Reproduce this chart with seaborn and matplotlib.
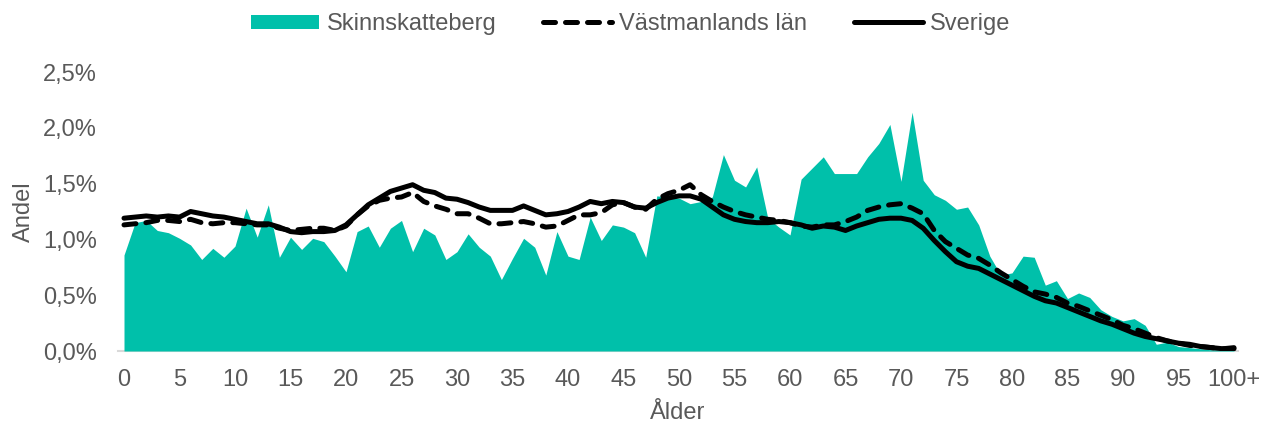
import matplotlib
matplotlib.use("Agg")
import matplotlib.pyplot as plt
import seaborn as sns
import pandas as pd
from matplotlib.patches import Patch
from matplotlib.lines import Line2D
from matplotlib.ticker import FuncFormatter

ages = list(range(101))

skinnskatteberg = [
    0.86, 1.15, 1.17, 1.08, 1.06, 1.01, 0.95, 0.82, 0.92, 0.84,
    0.94, 1.28, 1.02, 1.31, 0.84, 1.02, 0.91, 1.01, 0.98, 0.85,
    0.71, 1.07, 1.12, 0.93, 1.10, 1.17, 0.89, 1.10, 1.04, 0.82,
    0.89, 1.05, 0.93, 0.85, 0.64, 0.83, 1.01, 0.93, 0.68, 1.07,
    0.85, 0.82, 1.20, 0.99, 1.13, 1.11, 1.06, 0.84, 1.39, 1.38,
    1.37, 1.32, 1.34, 1.38, 1.76, 1.53, 1.47, 1.65, 1.19, 1.11,
    1.04, 1.54, 1.64, 1.74, 1.59, 1.59, 1.59, 1.74, 1.86, 2.03,
    1.52, 2.14, 1.53, 1.40, 1.35, 1.27, 1.29, 1.13, 0.85, 0.68,
    0.70, 0.85, 0.84, 0.59, 0.63, 0.47, 0.52, 0.48, 0.37, 0.31,
    0.27, 0.29, 0.23, 0.06, 0.08, 0.04, 0.03, 0.02, 0.01, 0.01, 0.01,
]

vastmanland = [
    1.13, 1.14, 1.15, 1.17, 1.17, 1.16, 1.18, 1.15, 1.14, 1.15,
    1.15, 1.14, 1.13, 1.13, 1.10, 1.08, 1.09, 1.10, 1.10, 1.08,
    1.12, 1.22, 1.30, 1.35, 1.37, 1.38, 1.42, 1.34, 1.30, 1.27,
    1.23, 1.23, 1.19, 1.14, 1.14, 1.15, 1.16, 1.14, 1.11, 1.12,
    1.17, 1.22, 1.22, 1.24, 1.31, 1.33, 1.29, 1.27, 1.36, 1.41,
    1.44, 1.49, 1.40, 1.34, 1.29, 1.25, 1.22, 1.20, 1.18, 1.17,
    1.15, 1.12, 1.11, 1.13, 1.13, 1.16, 1.20, 1.26, 1.29, 1.31,
    1.32, 1.28, 1.23, 1.08, 0.98, 0.92, 0.86, 0.83, 0.77, 0.70,
    0.64, 0.58, 0.53, 0.51, 0.48, 0.43, 0.40, 0.36, 0.32, 0.28,
    0.23, 0.20, 0.16, 0.12, 0.09, 0.07, 0.05, 0.04, 0.03, 0.02, 0.02,
]

sverige = [
    1.19, 1.20, 1.21, 1.20, 1.21, 1.20, 1.25, 1.23, 1.21, 1.20,
    1.18, 1.16, 1.14, 1.14, 1.11, 1.07, 1.06, 1.07, 1.07, 1.08,
    1.13, 1.22, 1.31, 1.37, 1.43, 1.46, 1.49, 1.44, 1.42, 1.37,
    1.36, 1.33, 1.29, 1.26, 1.26, 1.26, 1.30, 1.26, 1.22, 1.23,
    1.25, 1.29, 1.34, 1.32, 1.34, 1.33, 1.29, 1.28, 1.33, 1.37,
    1.39, 1.39, 1.36, 1.29, 1.22, 1.18, 1.16, 1.15, 1.15, 1.16,
    1.15, 1.13, 1.10, 1.12, 1.11, 1.08, 1.12, 1.15, 1.18, 1.19,
    1.19, 1.17, 1.10, 0.99, 0.89, 0.80, 0.76, 0.74, 0.69, 0.64,
    0.59, 0.54, 0.49, 0.45, 0.43, 0.39, 0.35, 0.31, 0.27, 0.24,
    0.20, 0.16, 0.13, 0.11, 0.09, 0.07, 0.06, 0.04, 0.03, 0.02, 0.03,
]

tick_ages = list(range(0, 101, 5))
tick_labels = [str(a) for a in range(0, 100, 5)] + ["100+"]
y_ticks = [0.0, 0.5, 1.0, 1.5, 2.0, 2.5]

series_names = ["Skinnskatteberg", "Västmanlands län", "Sverige"]

TEAL = "#00C0AA"
TEXT = "#595959"

sns.set_theme(style="white")
plt.rcParams["font.family"] = ["Liberation Sans", "DejaVu Sans"]
FS = 17
LW = 3.6

df = pd.DataFrame({"age": ages, "skinn": skinnskatteberg,
                   "vast": vastmanland, "sve": sverige})

fig = plt.figure(figsize=(12.61, 4.23), dpi=100)
x0, x1 = -0.55, 100.35
left_px = 124 + 11.1 * x0
right_px = 124 + 11.1 * x1
ax = fig.add_axes([left_px / 1261, 1 - 351 / 423,
                   (right_px - left_px) / 1261, (351 - 72) / 423])

ax.fill_between(df["age"], 0, df["skinn"], color=TEAL, linewidth=0, zorder=1)
sns.lineplot(data=df, x="age", y="vast", ax=ax, color="black", linewidth=LW,
             linestyle=(0, (2.4, 2.0)), dash_capstyle="round", zorder=3)
sns.lineplot(data=df, x="age", y="sve", ax=ax, color="black", linewidth=LW,
             solid_capstyle="round", zorder=4)

ax.set_xlim(x0, x1)
ax.set_ylim(0, 2.5)
ax.set_xticks(tick_ages)
ax.set_xticklabels(tick_labels)
ax.set_yticks(y_ticks)
ax.yaxis.set_major_formatter(FuncFormatter(lambda v, p: f"{v:.1f}%".replace(".", ",")))
ax.tick_params(axis="both", length=0, labelsize=FS, colors=TEXT)
ax.tick_params(axis="x", pad=13)
ax.tick_params(axis="y", pad=15)

for s in ["top", "right", "left"]:
    ax.spines[s].set_visible(False)
ax.spines["bottom"].set_color("#D9D9D9")
ax.spines["bottom"].set_linewidth(1.5)
ax.spines["bottom"].set_zorder(0.5)
ax.grid(False)

ax.set_xlabel("Ålder", fontsize=FS, color=TEXT, labelpad=8)
ax.set_ylabel("Andel", fontsize=FS, color=TEXT, labelpad=6)

handles = [
    Patch(facecolor=TEAL, edgecolor="none"),
    Line2D([0], [0], color="black", linewidth=LW, linestyle=(0, (2.4, 2.0)),
           dash_capstyle="round"),
    Line2D([0], [0], color="black", linewidth=LW, solid_capstyle="round"),
]
leg = fig.legend(handles, series_names, loc="center", bbox_to_anchor=(0.5, 1 - 24 / 423),
                 ncol=3, frameon=False, fontsize=FS, handlelength=2.9,
                 handleheight=0.55, handletextpad=0.3, columnspacing=2.0)
for t in leg.get_texts():
    t.set_color(TEXT)

fig.savefig("out.png", dpi=100)
